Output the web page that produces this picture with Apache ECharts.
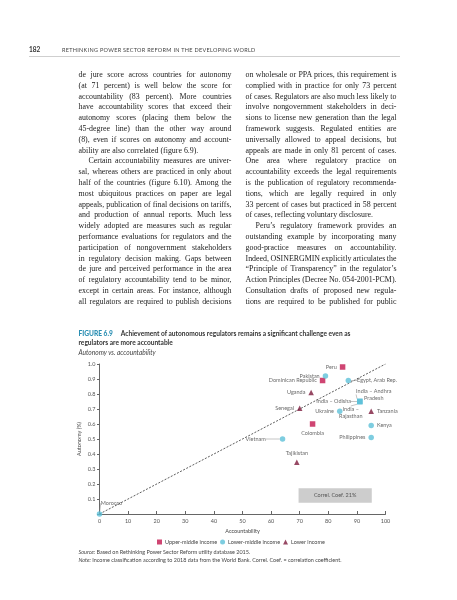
<!DOCTYPE html>
<html lang="en">
<head>
    <meta charset="UTF-8">
    <title>Figure 6.9 - Autonomy vs. accountability</title>
    <style>
        body {
            margin: 0;
            width: 457px;
            height: 600px;
            position: relative;
            background: #fff;
            overflow: hidden;
            font-family: Lato, 'Open Sans', sans-serif;
        }
        #chart {
            position: absolute;
            left: 0; top: 0;
            width: 457px; height: 600px;
            z-index: 1;
        }
        .t { position: absolute; z-index: 2; white-space: nowrap; }
        .pg { left: 29px; top: 46px; font-size: 6.5px; font-weight: bold; color: #333; }
        .hd { left: 62px; top: 46.5px; font-size: 5.5px; letter-spacing: 0.3px; color: #444; }
        .rule { position: absolute; left: 29px; top: 56px; width: 371px; height: 1px; background: #cfcfcf; z-index: 2; }
        .ln { position: absolute; z-index: 2; white-space: nowrap; font-family: 'Liberation Serif', serif;
              font-size: 7.9px; line-height: 10px; color: #222; }
        .ttl { left: 78.5px; font-size: 6.6px; font-weight: bold; color: #333; }
        .ttl b { color: #2b8fb3; margin-right: 8px; }
        .sub { left: 78.5px; font-size: 6.6px; font-style: italic; color: #444; }
        .src { left: 78.5px; font-size: 5.45px; color: #444; }
        .src i { font-style: italic; }
    </style>
    <script src="https://cdn.jsdelivr.net/npm/echarts@6/dist/echarts.min.js"></script>
</head>
<body>
    <div id="chart"></div>
    <div class="t pg">182</div>
    <div class="t hd">RETHINKING POWER SECTOR REFORM IN THE DEVELOPING WORLD</div>
    <div class="rule"></div>
    <div id="cols"></div>
    <div class="t ttl" style="top:329px"><b>FIGURE 6.9</b>Achievement of autonomous regulators remains a significant challenge even as</div>
    <div class="t ttl" style="top:338px">regulators are more accountable</div>
    <div class="t sub" style="top:348px">Autonomy vs. accountability</div>
    <div class="t src" style="top:549px"><i>Source:</i> Based on Rethinking Power Sector Reform utility database 2015.</div>
    <div class="t src" style="top:556.5px"><i>Note:</i> Income classification according to 2018 data from the World Bank. Correl. Coef. = correlation coefficient.</div>
    <script>
        // 正文两栏：[文字, 是否两端对齐, 是否首行缩进]
        var leftLines = [
            ['de jure score across countries for autonomy', 1],
            ['(at 71 percent) is well below the score for', 1],
            ['accountability (83 percent). More countries', 1],
            ['have accountability scores that exceed their', 1],
            ['autonomy scores (placing them below the', 1],
            ['45-degree line) than the other way around', 1],
            ['(8), even if scores on autonomy and account-', 1],
            ['ability are also correlated (figure 6.9).', 0],
            ['Certain accountability measures are univer-', 1, 1],
            ['sal, whereas others are practiced in only about', 1],
            ['half of the countries (figure 6.10). Among the', 1],
            ['most ubiquitous practices on paper are legal', 1],
            ['appeals, publication of final decisions on tariffs,', 1],
            ['and production of annual reports. Much less', 1],
            ['widely adopted are measures such as regular', 1],
            ['performance evaluations for regulators and the', 1],
            ['participation of nongovernment stakeholders', 1],
            ['in regulatory decision making. Gaps between', 1],
            ['de jure and perceived performance in the area', 1],
            ['of regulatory accountability tend to be minor,', 1],
            ['except in certain areas. For instance, although', 1],
            ['all regulators are required to publish decisions', 1]
        ];
        var rightLines = [
            ['on wholesale or PPA prices, this requirement is', 1],
            ['complied with in practice for only 73 percent', 1],
            ['of cases. Regulators are also much less likely to', 1],
            ['involve nongovernment stakeholders in deci-', 1],
            ['sions to license new generation than the legal', 1],
            ['framework suggests. Regulated entities are', 1],
            ['universally allowed to appeal decisions, but', 1],
            ['appeals are made in only 81 percent of cases.', 1],
            ['One area where regulatory practice on', 1],
            ['accountability exceeds the legal requirements', 1],
            ['is the publication of regulatory recommenda-', 1],
            ['tions, which are legally required in only', 1],
            ['33 percent of cases but practiced in 58 percent', 1],
            ['of cases, reflecting voluntary disclosure.', 0],
            ['Peru\u2019s regulatory framework provides an', 1, 1],
            ['outstanding example by incorporating many', 1],
            ['good-practice measures on accountability.', 1],
            ['Indeed, OSINERGMIN explicitly articulates the', 1],
            ['\u201CPrinciple of Transparency\u201D in the regulator\u2019s', 1],
            ['Action Principles (Decree No. 054-2001-PCM).', 1],
            ['Consultation drafts of proposed new regula-', 1],
            ['tions are required to be published for public', 1]
        ];

        // 散点数据：问责度 (x) 与自主性 (y)
        var countries = ['Peru', 'Pakistan', 'Dominican Republic', 'Egypt, Arab Rep.', 'Uganda',
            'India \u2013 Andhra Pradesh', 'India \u2013 Odisha', 'India \u2013 Rajasthan', 'Senegal', 'Ukraine',
            'Tanzania', 'Colombia', 'Kenya', 'Philippines', 'Vietnam', 'Tajikistan', 'Morocco'];
        var accountability = [85, 79, 78, 87, 74, 91, 91, 91, 70, 84, 95, 74.5, 95, 95, 64, 69, 0];
        var autonomy = [0.98, 0.92, 0.89, 0.89, 0.81, 0.75, 0.75, 0.75, 0.705, 0.685, 0.685, 0.6, 0.59, 0.51, 0.5, 0.345, 0];
        var income = ['Upper-middle income', 'Lower-middle income', 'Upper-middle income', 'Lower-middle income',
            'Lower income', 'Lower-middle income', 'Lower-middle income', 'Lower-middle income', 'Lower income',
            'Lower-middle income', 'Lower income', 'Upper-middle income', 'Lower-middle income',
            'Lower-middle income', 'Lower-middle income', 'Lower income', 'Lower-middle income'];
        var incomeGroups = ['Upper-middle income', 'Lower-middle income', 'Lower income'];
        var diagonal = [[0, 0], [100, 1]];
        var correlText = 'Correl. Coef. 21%';
        var xTicks = [0, 100, 10];
        var yTicks = [0, 1, 0.1];

        // 正文排版
        var cols = document.getElementById('cols');
        function layColumn(lines, left, width) {
            lines.forEach(function(l, i) {
                var indent = l[2] ? 10 : 0;
                var d = document.createElement('div');
                d.className = 'ln';
                d.style.left = (left + indent) + 'px';
                d.style.top = (70 + i * 10.8) + 'px';
                d.textContent = l[0];
                cols.appendChild(d);
                var natural = d.getBoundingClientRect().width;
                var spaces = (l[0].match(/ /g) || []).length;
                var w = width - indent;
                if (spaces && (l[1] || natural > w)) {
                    d.style.wordSpacing = ((w - natural) / spaces) + 'px';
                }
            });
        }
        layColumn(leftLines, 78.5, 153);
        layColumn(rightLines, 245.5, 151);

        var chart = echarts.init(document.getElementById('chart'));

        var colors = {
            'Upper-middle income': '#c3164f',
            'Lower-middle income': '#5ec1d8',
            'Lower income': '#7d1b3d'
        };
        var symbols = {
            'Upper-middle income': 'rect',
            'Lower-middle income': 'circle',
            'Lower income': 'triangle'
        };
        // 标签位置（样式，不是数据）
        var labelStyle = {
            'Peru': { position: 'left' },
            'Pakistan': { position: 'left' },
            'Dominican Republic': { position: 'left' },
            'Egypt, Arab Rep.': { position: 'right', dx: 3, line: true },
            'Uganda': { position: 'left' },
            'India \u2013 Andhra Pradesh': { position: 'inside', dx: 14, dy: -7, line: true, text: 'India \u2013 Andhra\nPradesh' },
            'India \u2013 Odisha': { position: 'left', dx: -3, line: true },
            'India \u2013 Rajasthan': { position: 'inside', dx: -9, dy: 11, line: true, text: 'India \u2013\nRajasthan' },
            'Senegal': { position: 'left' },
            'Ukraine': { position: 'left' },
            'Tanzania': { position: 'right' },
            'Colombia': { position: 'bottom' },
            'Kenya': { position: 'right' },
            'Philippines': { position: 'left' },
            'Vietnam': { position: 'left', dx: -11, line: true },
            'Tajikistan': { position: 'top' },
            'Morocco': { position: 'inside', dx: 12, dy: -11, line: true }
        };

        var labelLookup = [[]]; // 按 seriesIndex / dataIndex 查标签样式，第 0 个是对角线
        var series = incomeGroups.map(function(g) {
            var items = [];
            var infos = [];
            countries.forEach(function(c, i) {
                if (income[i] !== g) return;
                var ls = labelStyle[c];
                var item = {
                    name: c,
                    value: [accountability[i], autonomy[i]],
                    label: {
                        position: ls.position,
                        formatter: ls.text || c
                    },
                    labelLine: { show: !!ls.line }
                };
                if (c.indexOf('India') === 0) item.symbol = 'rect';
                items.push(item);
                infos.push(ls);
            });
            labelLookup.push(infos);
            return {
                name: g,
                type: 'scatter',
                symbol: symbols[g],
                symbolSize: 5.5,
                itemStyle: { color: colors[g] },
                z: 3,
                label: {
                    show: true,
                    distance: 3,
                    fontFamily: 'Lato',
                    fontSize: 5.5,
                    lineHeight: 6.5,
                    color: '#444'
                },
                labelLine: {
                    lineStyle: { color: '#888', width: 0.5 }
                },
                labelLayout: function(p) {
                    var ls = (labelLookup[p.seriesIndex] || [])[p.dataIndex] || {};
                    return { dx: ls.dx || 0, dy: ls.dy || 0 };
                },
                data: items
            };
        });

        series.unshift({
            name: 'diagonal',
            type: 'line',
            data: diagonal,
            symbol: 'none',
            silent: true,
            z: 1,
            lineStyle: { color: '#333', width: 0.8, type: [2, 1.5] },
            markArea: {
                silent: true,
                itemStyle: { color: '#cdcdcd' },
                label: {
                    show: true,
                    position: 'inside',
                    formatter: correlText,
                    fontFamily: 'Lato',
                    fontSize: 5.5,
                    color: '#555'
                },
                data: [[{ xAxis: 69.6, yAxis: 0.171 }, { xAxis: 95.2, yAxis: 0.075 }]]
            }
        });

        var option = {
            animation: false,
            textStyle: { fontFamily: 'Lato' },
            grid: { left: 99.5, right: 71.5, top: 364, bottom: 86 },
            legend: {
                data: incomeGroups.map(function(g) { return { name: g, icon: symbols[g] }; }),
                left: 152,
                top: 534,
                itemWidth: 5,
                itemHeight: 5,
                itemGap: 3,
                textStyle: { fontSize: 5.5, color: '#444', padding: [0, 0, 0, -2] }
            },
            xAxis: {
                type: 'value',
                min: xTicks[0], max: xTicks[1], interval: xTicks[2],
                name: 'Accountability',
                nameLocation: 'middle',
                nameGap: 14,
                nameTextStyle: { fontSize: 5.5, color: '#444' },
                axisLine: { lineStyle: { color: '#666', width: 1 } },
                axisTick: { inside: true, length: 3, lineStyle: { color: '#666' } },
                axisLabel: { fontSize: 5.5, color: '#555', margin: 4 },
                splitLine: { show: false }
            },
            yAxis: {
                type: 'value',
                min: yTicks[0], max: yTicks[1], interval: yTicks[2],
                name: 'Autonomy (%)',
                nameLocation: 'middle',
                nameGap: 17,
                nameMoveOverlap: false,
                nameRotate: 90,
                nameTextStyle: { fontSize: 5.5, color: '#444' },
                axisLine: { show: true, lineStyle: { color: '#666', width: 1 } },
                axisTick: { show: true, length: 2.5, lineStyle: { color: '#666' } },
                axisLabel: {
                    fontSize: 5.5, color: '#555', margin: 4,
                    formatter: function(v) { return v === 0 ? '' : v.toFixed(1); }
                },
                splitLine: { show: false }
            },
            series: series
        };
        chart.setOption(option);
    </script>
</body>
</html>
